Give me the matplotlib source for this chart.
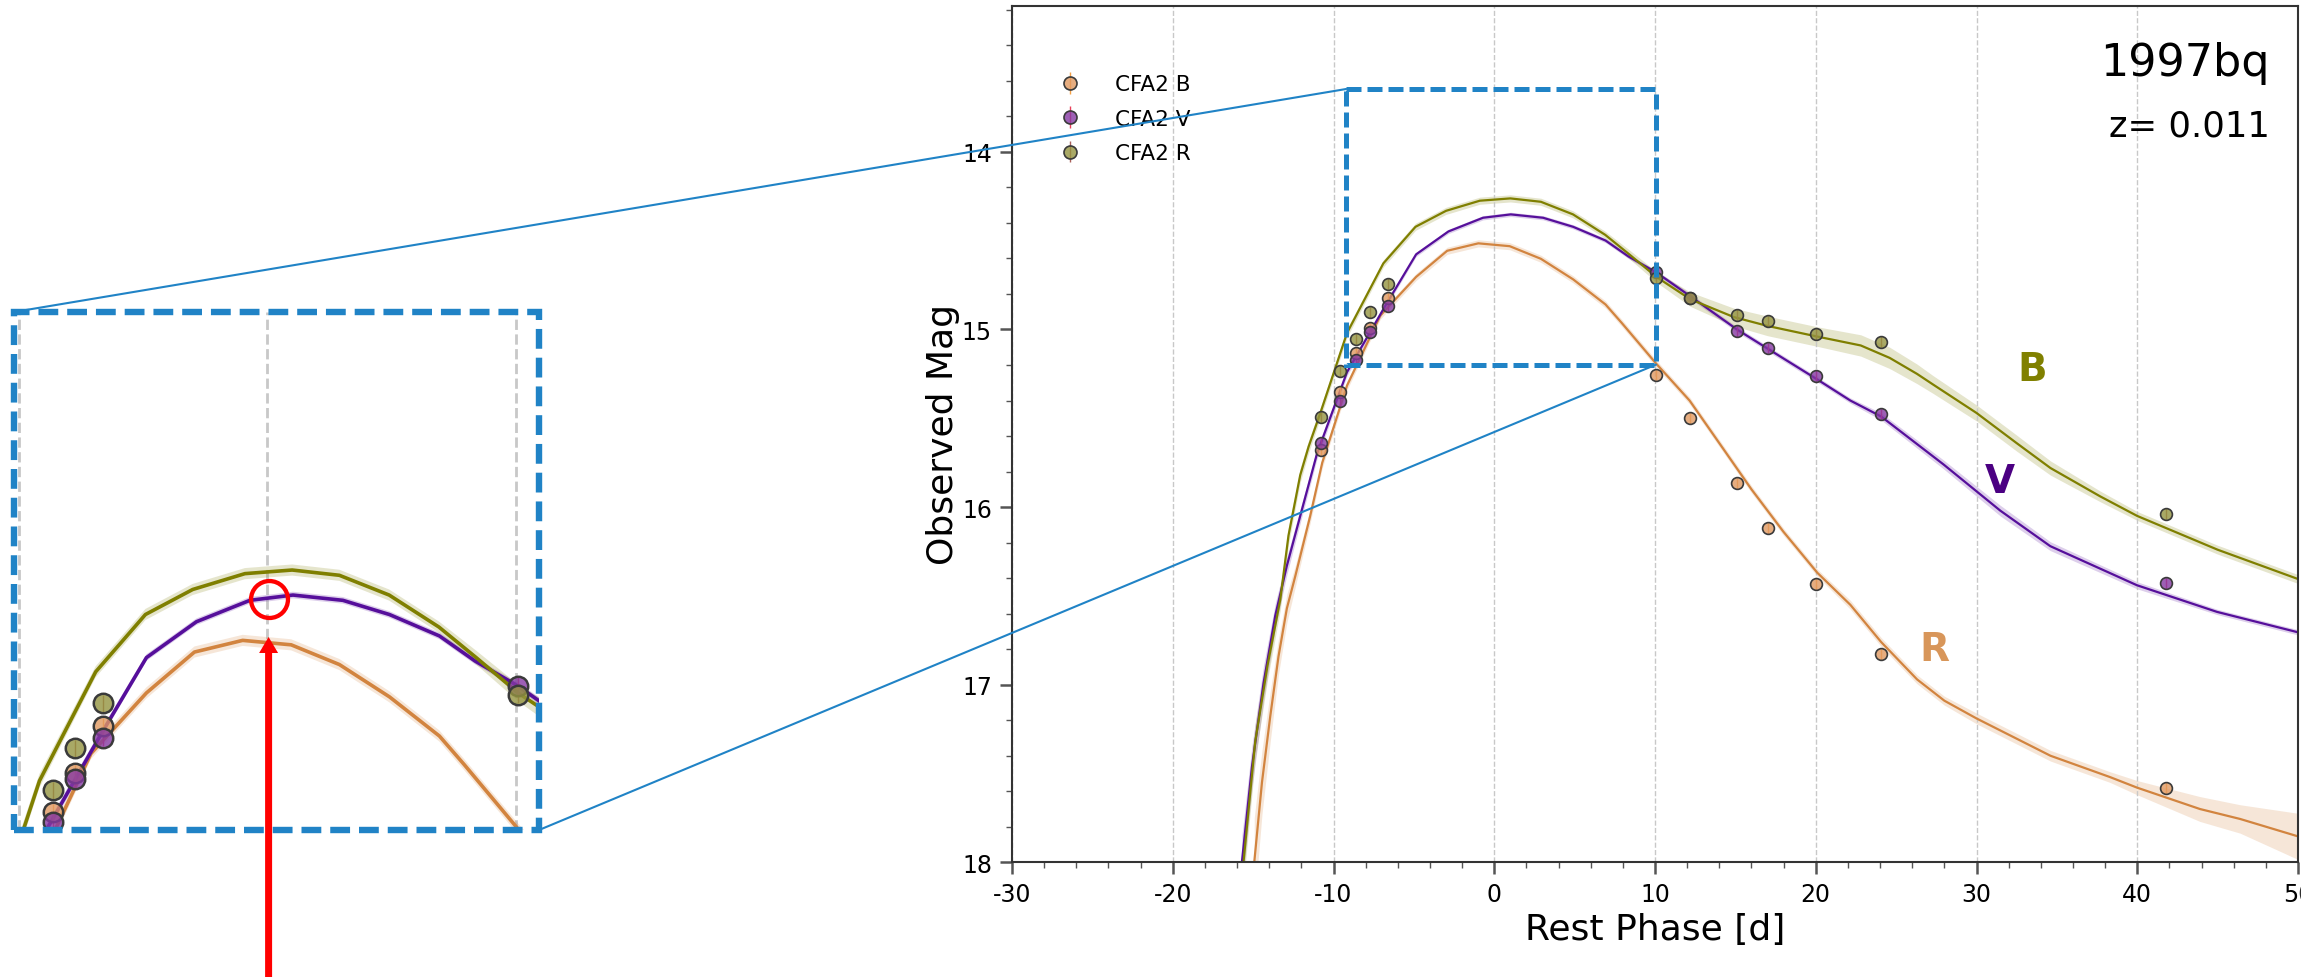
import matplotlib.pyplot as plt
import matplotlib.transforms as mtransforms
import numpy as np
from matplotlib.patches import Rectangle, ConnectionPatch, FancyArrow

plt.rcParams['axes.unicode_minus'] = False

# Observed photometry (rest phase in days, observed magnitude)
phase_obs = [-10.78, -9.58, -8.63, -7.73, -6.61, 10.08, 12.15, 15.08, 17.06, 20.01, 24.07, 41.8]
mag_cfa_b = [15.677, 15.350, 15.134, 14.993, 14.823, 15.256, 15.50, 15.864, 16.119, 16.433, 16.829, 17.58]
mag_cfa_v = [15.641, 15.401, 15.170, 15.014, 14.866, 14.678, 14.82, 15.010, 15.104, 15.260, 15.476, 16.427]
mag_cfa_r = [15.491, 15.235, 15.054, 14.903, 14.742, 14.712, 14.823, 14.917, 14.952, 15.027, 15.069, 16.037]
err_obs = [0.03] * len(phase_obs)

# Model light curves with their uncertainty bands
model_b_phase = [-15.6, -14.87, -14.1, -13.31, -12.8, -12.07, -11.55, -10.78, -9.16, -6.9, -4.9, -3.0,
                 -0.9, 1.0, 2.9, 4.9, 6.9, 8.4, 10.1, 12.2, 14.9, 17.0, 20.1, 22.8, 24.6, 26.3, 27.3,
                 30.0, 32.5, 34.6, 37.7, 40.0, 45.0, 50.0]
model_b_mag = [18.0, 17.32, 16.89, 16.52, 16.16, 15.82, 15.66, 15.46, 15.02, 14.628, 14.422, 14.332,
               14.275, 14.262, 14.281, 14.352, 14.467, 14.577, 14.705, 14.83, 14.93, 14.98, 15.04, 15.09,
               15.16, 15.25, 15.31, 15.47, 15.64, 15.78, 15.94, 16.05, 16.24, 16.405]
model_b_err = [0.12, 0.1, 0.08, 0.06, 0.05, 0.04, 0.035, 0.03, 0.025, 0.02, 0.02, 0.02,
               0.02, 0.02, 0.02, 0.02, 0.02, 0.025, 0.03, 0.04, 0.05, 0.055, 0.055, 0.06,
               0.06, 0.055, 0.05, 0.045, 0.045, 0.04, 0.03, 0.025, 0.025, 0.025]

model_v_phase = [-15.7, -15.07, -14.35, -13.62, -12.9, -12.07, -11.03, -9.16, -6.67, -4.86, -2.85, -0.7,
                 1.03, 3.04, 4.91, 6.92, 8.35, 10.08, 12.15, 15.1, 17.4, 20.07, 22.15, 24.07, 27.95,
                 31.48, 34.59, 39.98, 44.96, 50.0]
model_v_mag = [18.0, 17.46, 16.99, 16.61, 16.33, 16.05, 15.70, 15.24, 14.85, 14.577, 14.448, 14.371,
               14.352, 14.371, 14.422, 14.499, 14.589, 14.679, 14.81, 15.0, 15.13, 15.28, 15.40, 15.49,
               15.76, 16.02, 16.22, 16.44, 16.59, 16.705]
model_v_err = [0.15, 0.12, 0.1, 0.07, 0.05, 0.04, 0.03, 0.02, 0.015, 0.012, 0.012, 0.012,
               0.012, 0.012, 0.012, 0.012, 0.012, 0.012, 0.015, 0.015, 0.015, 0.015, 0.015, 0.02,
               0.025, 0.03, 0.025, 0.02, 0.015, 0.015]

model_r_phase = [-14.93, -14.45, -13.93, -13.42, -12.9, -12.38, -11.45, -10.7, -9.16, -7.09, -4.86, -2.93,
                 -0.99, 0.96, 2.9, 4.91, 6.92, 7.92, 10.08, 12.15, 14.0, 16.0, 18.0, 20.1, 22.15,
                 24.07, 26.3, 28.0, 30.0, 34.6, 38.3, 40.0, 43.9, 46.4, 50.0]
model_r_mag = [18.0, 17.55, 17.175, 16.84, 16.57, 16.39, 16.05, 15.75, 15.316, 14.922, 14.704, 14.557,
               14.515, 14.531, 14.602, 14.718, 14.859, 14.962, 15.193, 15.40, 15.64, 15.90, 16.14, 16.37,
               16.55, 16.76, 16.97, 17.09, 17.19, 17.40, 17.52, 17.58, 17.70, 17.756, 17.854]
model_r_err = [0.25, 0.18, 0.14, 0.1, 0.08, 0.06, 0.04, 0.03, 0.025, 0.02, 0.02, 0.02,
               0.02, 0.02, 0.02, 0.02, 0.02, 0.02, 0.02, 0.02, 0.02, 0.02, 0.02, 0.02,
               0.025, 0.025, 0.025, 0.025, 0.03, 0.03, 0.03, 0.04, 0.07, 0.08, 0.13]

c_olive = '#7f7f00'
c_purple = '#560f9b'
c_orange = '#d2843f'
blue = '#2083c6'

models = [
    (model_r_phase, model_r_mag, model_r_err, c_orange),
    (model_v_phase, model_v_mag, model_v_err, c_purple),
    (model_b_phase, model_b_mag, model_b_err, c_olive),
]
surveys = [
    ('CFA2 B', mag_cfa_b, (0.88, 0.60, 0.38, 0.8), '#f5a045'),
    ('CFA2 V', mag_cfa_v, (0.52, 0.22, 0.64, 0.8), '#e8405a'),
    ('CFA2 R', mag_cfa_r, (0.58, 0.58, 0.25, 0.8), '#a8605a'),
]


def draw_curves(a, lw, ms, mew):
    for ph, m, e, c in models:
        m = np.array(m)
        e = np.array(e)
        a.fill_between(ph, m - e, m + e, color=c, alpha=0.2, lw=0, zorder=1)
        a.plot(ph, m, color=c, lw=lw, zorder=2)
    for name, mags, face, ecol in surveys:
        a.errorbar(phase_obs, mags, yerr=err_obs, fmt='o', ms=ms, mfc=face, mec='#3a3a3a',
                   mew=mew, ecolor=ecol, elinewidth=1, label=name, zorder=3)


fig = plt.figure(figsize=(23.21, 9.78), dpi=100)
px = mtransforms.Affine2D().scale(1 / 100) + fig.dpi_scale_trans

# Main panel
ax = fig.add_axes([1012 / 2321, 114.7 / 978, 1286 / 2321, 856.6 / 978])
draw_curves(ax, 1.6, 8.5, 1.2)
ax.set_xlim(-30, 50)
ax.set_ylim(18, 13.177)
ax.set_xticks(np.arange(-30, 51, 10))
ax.set_xticks(np.arange(-30, 51, 2), minor=True)
ax.set_yticks([14, 15, 16, 17, 18])
ax.set_yticks(np.arange(13.2, 18.01, 0.2), minor=True)
ax.grid(axis='x', which='major', ls='--', color='#c8c8c8', lw=1)
ax.tick_params(which='major', length=8.4, width=1.8, color='#555555', labelsize=17, pad=6)
ax.tick_params(which='minor', length=4, width=1, color='#555555')
for sp in ax.spines.values():
    sp.set_color('#333333')
    sp.set_linewidth(1.5)
ax.set_xlabel('Rest Phase [d]', fontsize=26)
ax.set_ylabel('Observed Mag', fontsize=26)
ax.yaxis.set_label_coords(-0.0404, 0.5)

ax.legend(loc='upper left', bbox_to_anchor=(0.0218, 0.930), borderaxespad=0, frameon=False,
          fontsize=15.5, handletextpad=1.1, labelspacing=0.67, markerscale=1.1)

ax.text(0.978, 0.919, '1997bq', transform=ax.transAxes, ha='right', va='baseline', fontsize=32)
ax.text(0.978, 0.848, 'z= 0.011', transform=ax.transAxes, ha='right', va='baseline', fontsize=25.5)

ax.text(33.45, 15.284, 'B', color='#808000', fontsize=28, fontweight='bold', ha='center', va='baseline')
ax.text(31.43, 15.913, 'V', color='#4b0082', fontsize=28, fontweight='bold', ha='center', va='baseline')
ax.text(27.40, 16.861, 'R', color='#d8965a', fontsize=28, fontweight='bold', ha='center', va='baseline')

# Zoom box on the main panel
ax.add_patch(Rectangle((-9.21, 13.646), 19.27, 1.552, fill=False, ec=blue, lw=3.6,
                       ls=(0, (3.0, 1.2)), zorder=6, clip_on=False))

# Magnified inset
ax_in = fig.add_axes([14 / 2321, 147 / 978, 525 / 2321, 518 / 978])
draw_curves(ax_in, 2.6, 14, 1.8)
ax_in.set_xlim(-10.185, 10.925)
ax_in.set_ylim(15.197, 13.334)
for x in [-10, 0, 10]:
    ax_in.axvline(x, color='#c8c8c8', ls='--', lw=2, zorder=0)
ax_in.set_xticks([])
ax_in.set_yticks([])
for sp in ax_in.spines.values():
    sp.set_visible(False)
ax_in.add_patch(Rectangle((0, 0), 1, 1, transform=ax_in.transAxes, fill=False, ec=blue, lw=4.6,
                          ls=(0, (3.1, 1.4)), zorder=10, clip_on=False))

# Red marker and arrow pointing at V-band peak
ax_in.plot(0.05, 14.367, 'o', ms=26.6, mfc='none', mec='red', mew=3.1, zorder=12)
fig.add_artist(FancyArrow(268.6, 0, 0, 340, width=7, head_width=19, head_length=16,
                          length_includes_head=True, color='red', lw=0, transform=px))

# Lines connecting the zoom box to the inset
for xy_a, xy_b in [((-9.21, 13.646), (0, 1)), ((10.06, 15.198), (1, 0))]:
    fig.add_artist(ConnectionPatch(xyA=xy_a, coordsA=ax.transData, xyB=xy_b,
                                   coordsB=ax_in.transAxes, color=blue, lw=1.5, zorder=8))

# The original image is cut just right of the last axis
fig.add_artist(Rectangle((2301, 0), 30, 978, transform=px, color='white', zorder=100))

fig.savefig('out.png', dpi=100, facecolor='white')
